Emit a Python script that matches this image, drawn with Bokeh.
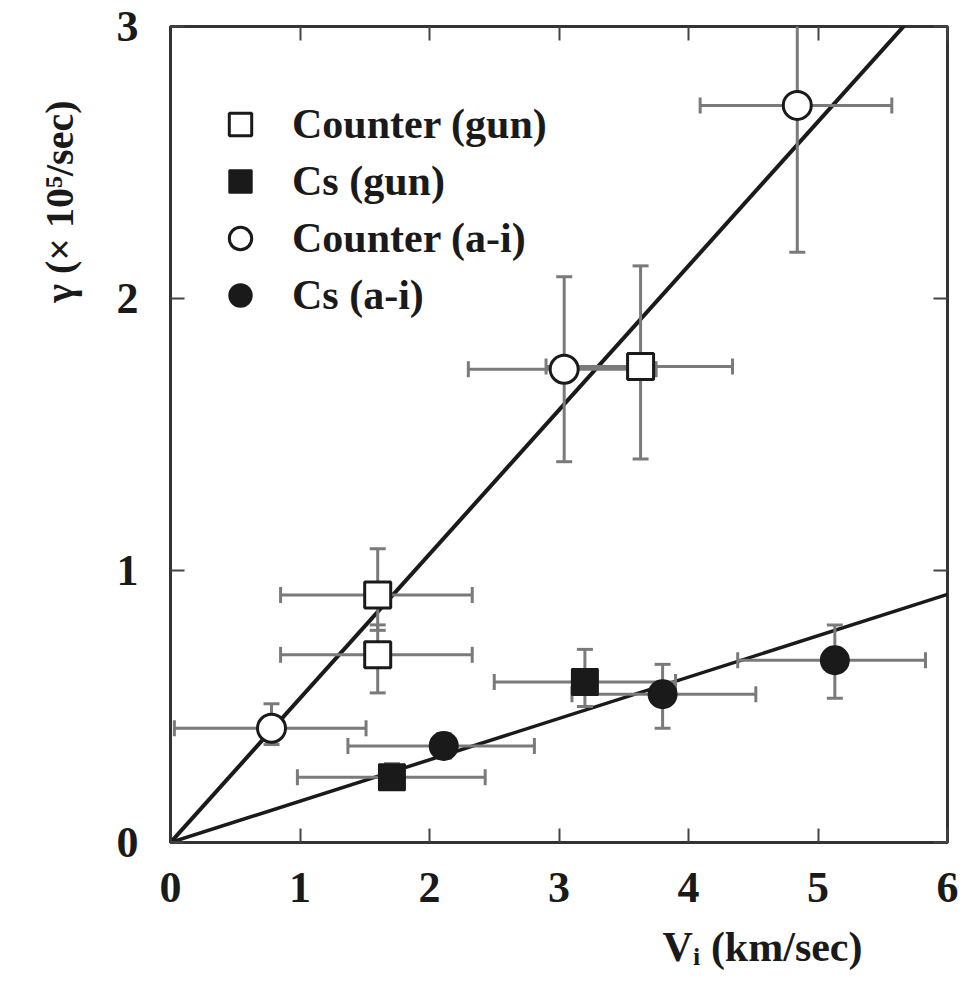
import numpy as np
from bokeh.plotting import figure
from bokeh.models import Range1d, Legend, LegendItem, LinearAxis, Title
from bokeh.embed import file_html
from bokeh.resources import INLINE

# ---------------- data ----------------
# Counter (gun) : open squares
cg_x = [1.60, 1.60, 3.63]
cg_y = [0.69, 0.91, 1.75]
cg_xlo = [0.85, 0.85, 2.90]
cg_xhi = [2.33, 2.33, 4.34]
cg_ylo = [0.55, 0.78, 1.41]
cg_yhi = [0.80, 1.08, 2.12]

# Cs (gun) : filled squares
sg_x = [1.71, 3.20]
sg_y = [0.24, 0.59]
sg_xlo = [0.98, 2.50]
sg_xhi = [2.43, 3.90]
sg_ylo = [0.20, 0.50]
sg_yhi = [0.29, 0.71]

# Counter (a-i) : open circles
ca_x = [0.78, 3.04, 4.84]
ca_y = [0.42, 1.74, 2.71]
ca_xlo = [0.03, 2.30, 4.09]
ca_xhi = [1.51, 3.75, 5.57]
ca_ylo = [0.36, 1.40, 2.17]
ca_yhi = [0.51, 2.08, 3.10]

# Cs (a-i) : filled circles
sa_x = [2.11, 3.80, 5.13]
sa_y = [0.355, 0.545, 0.67]
sa_xlo = [1.37, 3.10, 4.38]
sa_xhi = [2.81, 4.52, 5.83]
sa_ylo = [0.31, 0.42, 0.53]
sa_yhi = [0.40, 0.655, 0.80]

# fitted lines through origin
fit_x = [0.0, 6.0]
slope_counter = 0.53
slope_cs = 0.152

x_ticks = [0, 1, 2, 3, 4, 5, 6]
y_ticks = [0, 1, 2, 3]

FONT = "Liberation Serif"
INK = "#1a1a1a"
ERR = "#7a7a7a"

p = figure(width=979, height=988, x_range=Range1d(0, 6), y_range=Range1d(0, 3),
           output_backend="svg", toolbar_location=None,
           min_border_left=170, min_border_right=32, min_border_top=26, min_border_bottom=146)
p.grid.visible = False
p.outline_line_color = "#333333"
p.outline_line_width = 3
p.background_fill_color = "white"
p.border_fill_color = "white"

for ax in (p.xaxis[0], p.yaxis[0]):
    ax.axis_line_color = "#333333"
    ax.axis_line_width = 3
    ax.major_tick_in = 14
    ax.major_tick_out = 0
    ax.minor_tick_in = 7
    ax.minor_tick_out = 0
    ax.major_tick_line_width = 2
    ax.minor_tick_line_width = 2
    ax.major_tick_line_color = "#444444"
    ax.minor_tick_line_color = "#777777"
    ax.major_label_text_font = FONT
    ax.major_label_text_font_style = "bold"
    ax.major_label_text_font_size = "44px"
    ax.major_label_text_color = INK
p.xaxis.ticker = x_ticks
p.yaxis.ticker = y_ticks
p.xaxis.major_label_standoff = 30
p.yaxis.major_label_standoff = 32

for loc in ("right", "above"):
    ticks = x_ticks if loc == "above" else y_ticks
    ax = LinearAxis(major_label_standoff=0, major_label_text_font_size="10px",
                    axis_line_color=None, major_tick_in=14, major_tick_out=0,
                    minor_tick_in=7, minor_tick_out=0, major_tick_line_width=2,
                    minor_tick_line_width=2, major_tick_line_color="#444444",
                    minor_tick_line_color="#777777")
    ax.ticker = ticks
    ax.major_label_overrides = {t: "" for t in ticks}
    p.add_layout(ax, loc)

# fitted lines
p.line(fit_x, [slope_counter * v for v in fit_x], line_color=INK, line_width=4)
p.line(fit_x, [slope_cs * v for v in fit_x], line_color=INK, line_width=3.5)


def errorbars(x, y, xlo, xhi, ylo, yhi):
    p.segment(xlo, y, xhi, y, line_color=ERR, line_width=3)
    p.segment(x, ylo, x, yhi, line_color=ERR, line_width=3)
    p.scatter(xlo + xhi, y + y, marker="dash", angle=np.pi / 2, size=16,
              line_color=ERR, line_width=3)
    p.scatter(x + x, ylo + yhi, marker="dash", size=16, line_color=ERR, line_width=3)


errorbars(cg_x, cg_y, cg_xlo, cg_xhi, cg_ylo, cg_yhi)
errorbars(ca_x, ca_y, ca_xlo, ca_xhi, ca_ylo, ca_yhi)
errorbars(sg_x, sg_y, sg_xlo, sg_xhi, sg_ylo, sg_yhi)
errorbars(sa_x, sa_y, sa_xlo, sa_xhi, sa_ylo, sa_yhi)

r_cg = p.scatter(cg_x, cg_y, marker="square", size=26, fill_color="white",
                 line_color=INK, line_width=3)
r_sg = p.scatter(sg_x, sg_y, marker="square", size=26, fill_color=INK,
                 line_color=INK, line_width=2)
r_ca = p.scatter(ca_x, ca_y, marker="circle", size=28, fill_color="white",
                 line_color=INK, line_width=3)
r_sa = p.scatter(sa_x, sa_y, marker="circle", size=28, fill_color=INK,
                 line_color=INK, line_width=2)

legend = Legend(items=[
    LegendItem(label="Counter (gun)", renderers=[r_cg]),
    LegendItem(label="Cs (gun)", renderers=[r_sg]),
    LegendItem(label="Counter (a-i)", renderers=[r_ca]),
    LegendItem(label="Cs (a-i)", renderers=[r_sa]),
], location=(42, 519))
legend.glyph_width = 56
legend.glyph_height = 56
legend.label_height = 44
legend.spacing = 1
legend.padding = 10
legend.margin = 0
legend.label_standoff = 24
legend.label_text_font = FONT
legend.label_text_font_style = "bold"
legend.label_text_font_size = "42px"
legend.label_text_color = INK
legend.border_line_color = None
legend.background_fill_alpha = 0
p.add_layout(legend)

# axis titles
p.add_layout(Title(text="Vᵢ (km/sec)", align="right", offset=85, standoff=34,
                   text_font=FONT, text_font_style="bold", text_font_size="42px",
                   text_color=INK), "below")
p.add_layout(Title(text="γ (× 10⁵/sec)", align="right", offset=74, standoff=64,
                   text_font=FONT, text_font_style="bold", text_font_size="40px",
                   text_color=INK), "left")

open("out.html", "w").write(file_html(p, INLINE))
